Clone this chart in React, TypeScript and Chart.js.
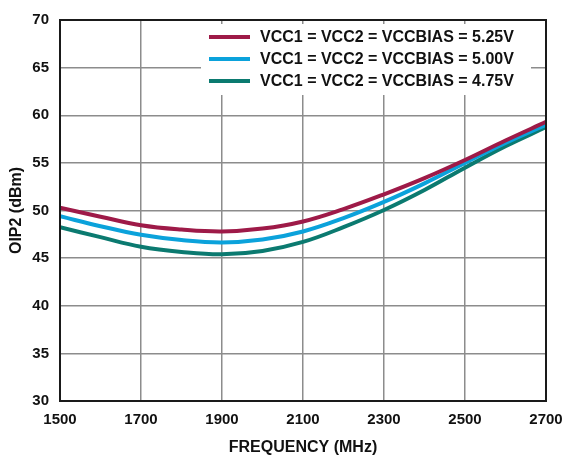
import React, { useEffect, useRef } from "react";
import { Chart, registerables } from "chart.js";

Chart.register(...registerables);

// Frequency sweep (MHz)
const frequencies = [1500, 1600, 1700, 1800, 1900, 2000, 2100, 2200, 2300, 2400, 2500, 2600, 2700];

// OIP2 (dBm) at each supply setting
const oip2At525 = [50.3, 49.35, 48.45, 48.0, 47.8, 48.1, 48.85, 50.15, 51.7, 53.4, 55.3, 57.35, 59.3];
const oip2At500 = [49.4, 48.35, 47.45, 46.9, 46.65, 46.95, 47.8, 49.2, 50.9, 52.85, 55.0, 57.1, 59.0];
const oip2At475 = [48.25, 47.2, 46.2, 45.65, 45.4, 45.75, 46.7, 48.25, 50.05, 52.15, 54.5, 56.75, 58.75];

const seriesLabels = [
  "VCC1 = VCC2 = VCCBIAS = 5.25V",
  "VCC1 = VCC2 = VCCBIAS = 5.00V",
  "VCC1 = VCC2 = VCCBIAS = 4.75V",
];
const seriesColors = ["#9e1a48", "#0ba2db", "#0b7a70"];

const FONT_FAMILY = "'Liberation Sans', Arial, Helvetica, sans-serif";

// White legend panel drawn over the grid, inside the plot area
const legendPanel = {
  id: "legendPanel",
  beforeDatasetsDraw(chart: Chart) {
    const { ctx } = chart;
    ctx.save();
    ctx.fillStyle = "#ffffff";
    ctx.fillRect(201, 24, 330, 71);
    chart.data.datasets.forEach((ds: any, i: number) => {
      const y = 37 + i * 22;
      ctx.strokeStyle = ds.borderColor;
      ctx.lineWidth = 4;
      ctx.beginPath();
      ctx.moveTo(209, y);
      ctx.lineTo(250, y);
      ctx.stroke();
      ctx.fillStyle = "#111111";
      ctx.font = `bold 16px ${FONT_FAMILY}`;
      ctx.textBaseline = "middle";
      ctx.textAlign = "left";
      ctx.fillText(ds.label, 260, y + 1);
    });
    ctx.restore();
  },
};

// Black frame around the plot area
const plotFrame = {
  id: "plotFrame",
  afterDatasetsDraw(chart: Chart) {
    const { ctx, chartArea } = chart;
    ctx.save();
    ctx.strokeStyle = "#1a1a1a";
    ctx.lineWidth = 2;
    ctx.strokeRect(
      chartArea.left,
      chartArea.top,
      chartArea.right - chartArea.left,
      chartArea.bottom - chartArea.top
    );
    ctx.restore();
  },
};

export default function App() {
  const canvasRef = useRef<HTMLCanvasElement | null>(null);

  useEffect(() => {
    document.body.style.margin = "0";
    const canvas = canvasRef.current;
    if (!canvas) return;

    const series = [oip2At525, oip2At500, oip2At475];
    const chart = new Chart(canvas, {
      type: "line",
      data: {
        datasets: series.map((values, i) => ({
          label: seriesLabels[i],
          data: frequencies.map((f, j) => ({ x: f, y: values[j] })),
          borderColor: seriesColors[i],
          backgroundColor: seriesColors[i],
          borderWidth: 4,
          pointRadius: 0,
          tension: 0.4,
          fill: false,
        })),
      },
      options: {
        responsive: false,
        animation: false,
        events: [],
        layout: { padding: { top: 13, right: 18, bottom: 0, left: 0 } },
        plugins: {
          legend: { display: false },
          tooltip: { enabled: false },
        },
        scales: {
          x: {
            type: "linear",
            min: 1500,
            max: 2700,
            afterFit: (scale: any) => {
              scale.height = 58;
              scale.paddingLeft = 0;
              scale.paddingRight = 0;
            },
            ticks: {
              stepSize: 200,
              padding: 10,
              color: "#111111",
              font: { family: FONT_FAMILY, size: 15, weight: "bold" },
              maxRotation: 0,
              callback: (value: any) => String(value),
            },
            grid: { color: "#8c8c8c", lineWidth: 1.5, drawTicks: false },
            border: { display: false },
            title: {
              display: true,
              text: "FREQUENCY (MHz)",
              color: "#111111",
              font: { family: FONT_FAMILY, size: 16, weight: "bold" },
              padding: { top: 0, bottom: 2 },
            },
          },
          y: {
            min: 30,
            max: 70,
            afterFit: (scale: any) => {
              scale.width = 60;
            },
            ticks: {
              stepSize: 5,
              padding: 11,
              color: "#111111",
              font: { family: FONT_FAMILY, size: 15, weight: "bold" },
            },
            grid: { color: "#8c8c8c", lineWidth: 1.5, drawTicks: false },
            border: { display: false },
            title: {
              display: true,
              text: "OIP2 (dBm)",
              color: "#111111",
              font: { family: FONT_FAMILY, size: 16, weight: "bold" },
              padding: { top: 7, bottom: 0 },
            },
          },
        },
      },
      plugins: [legendPanel, plotFrame],
    });

    return () => chart.destroy();
  }, []);

  return (
    <div style={{ width: 564, height: 459, background: "#ffffff" }}>
      <canvas ref={canvasRef} width={564} height={459} />
    </div>
  );
}
